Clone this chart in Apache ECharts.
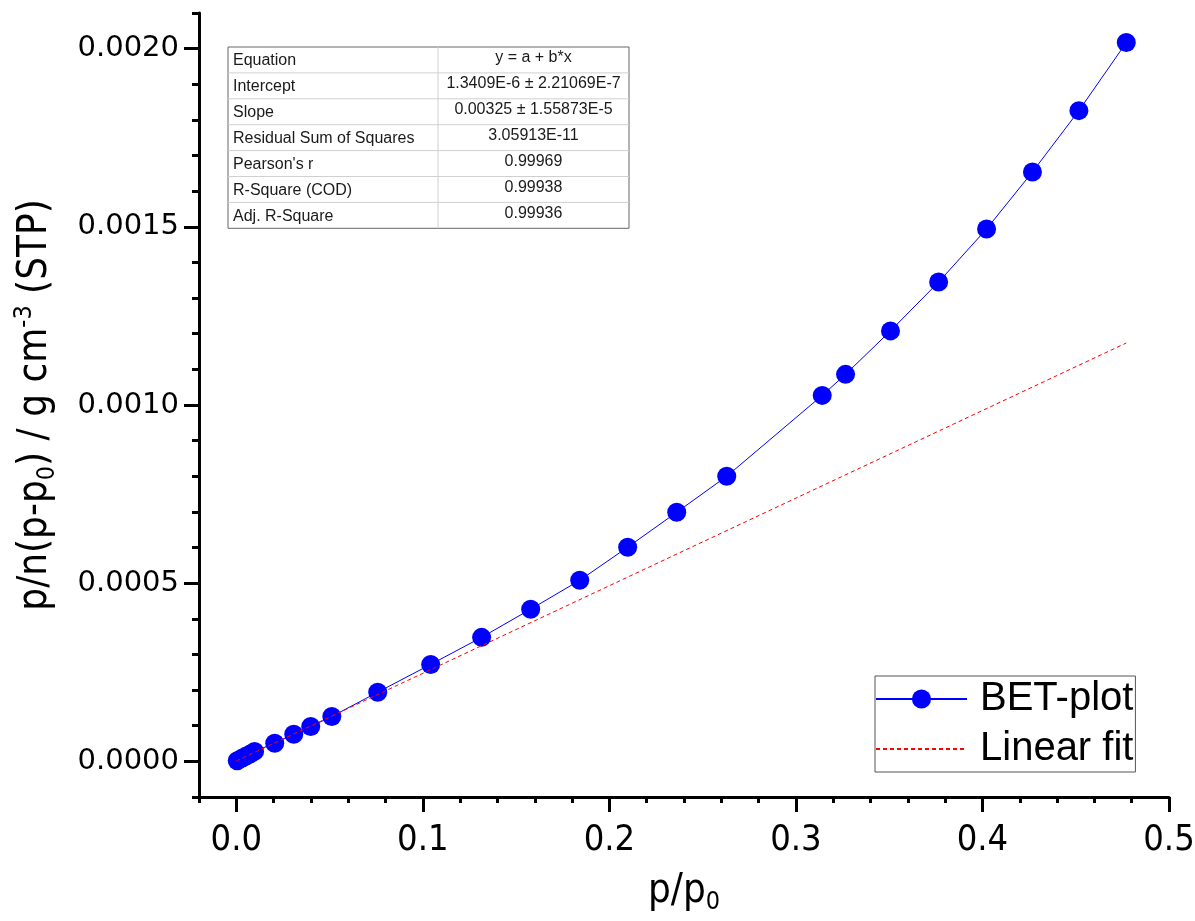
<!DOCTYPE html>
<html>
<head>
<meta charset="utf-8">
<script src="https://cdn.jsdelivr.net/npm/echarts@6/dist/echarts.min.js"></script>
<style>
  html, body { margin: 0; padding: 0; background: #fff; }
  #main { width: 1195px; height: 921px; }
</style>
</head>
<body>
<div id="main"></div>
<script>
// BET plot data
const relPressure = [0.0005, 0.003, 0.005, 0.0075, 0.0098, 0.0206, 0.0308, 0.0399, 0.0512, 0.0758,
  0.1042, 0.1315, 0.1578, 0.1841, 0.2098, 0.2361, 0.2629, 0.3141, 0.3266, 0.3507,
  0.3765, 0.4022, 0.4268, 0.4517, 0.4771];
const betValues = [0.0000015, 0.0000085, 0.000014, 0.000021, 0.000028, 0.000051, 0.000076, 0.000098, 0.000126, 0.000194,
  0.000272, 0.000348, 0.000427, 0.000508, 0.000601, 0.000699, 0.000800, 0.001027, 0.001086, 0.001208,
  0.001345, 0.001494, 0.001654, 0.001826, 0.002017];
// fitted straight line, end points
const fitX = [0, 0.4771];
const fitY = [0.0000013, 0.001174];

const xTicks = [0, 0.1, 0.2, 0.3, 0.4, 0.5];
const yTicks = [0, 0.0005, 0.001, 0.0015, 0.002];

const tableLabels = ['Equation', 'Intercept', 'Slope', 'Residual Sum of Squares', "Pearson's r", 'R-Square (COD)', 'Adj. R-Square'];
const tableValues = ['y = a + b*x', '1.3409E-6 \u00b1 2.21069E-7', '0.00325 \u00b1 1.55873E-5', '3.05913E-11', '0.99969', '0.99938', '0.99936'];

let myChart = echarts.init(document.getElementById('main'));

const narrow = '"Liberation Sans Narrow", "DejaVu Sans Condensed", "Liberation Sans", Arial, sans-serif';
const wide = '"DejaVu Sans", Arial, sans-serif';
const sans = '"Liberation Sans", Arial, sans-serif';

// table as graphic elements
const tLeft = 228, tTop = 47, tW = 401, rowH = 25.9, colX = 438;
let tableEls = [];
tableEls.push({ type: 'rect', shape: { x: tLeft, y: tTop, width: tW, height: rowH * tableLabels.length },
  style: { fill: '#fff', stroke: '#666', lineWidth: 1 } });
for (let i = 1; i < tableLabels.length; i++) {
  tableEls.push({ type: 'line', shape: { x1: tLeft, y1: tTop + rowH * i, x2: tLeft + tW, y2: tTop + rowH * i },
    style: { stroke: '#d0d0d0', lineWidth: 1 } });
}
tableEls.push({ type: 'line', shape: { x1: colX, y1: tTop, x2: colX, y2: tTop + rowH * tableLabels.length },
  style: { stroke: '#d0d0d0', lineWidth: 1 } });
tableLabels.forEach((t, i) => {
  tableEls.push({ type: 'text', x: tLeft + 5, y: tTop + rowH * i + rowH / 2 + 1,
    style: { text: t, font: '16px ' + sans, fill: '#1a1a1a', verticalAlign: 'middle' } });
  tableEls.push({ type: 'text', x: (colX + tLeft + tW) / 2, y: tTop + rowH * i + rowH / 2 - 2,
    style: { text: tableValues[i], font: '16px ' + sans, fill: '#1a1a1a', align: 'center', verticalAlign: 'middle' } });
});

let option = {
  animation: false,
  backgroundColor: '#fff',
  grid: { left: 199, right: 26, top: 13, bottom: 124, outerBoundsMode: 'none', containLabel: false },
  legend: {
    left: 875, top: 676,
    orient: 'vertical',
    itemWidth: 91, itemHeight: 24, itemGap: 10,
    padding: [3, 2, 3, 0],
    borderColor: '#555', borderWidth: 1,
    textStyle: { fontSize: 40, fontFamily: sans, color: '#000', lineHeight: 40, padding: [0, 0, 0, 8] },
    data: [{ name: 'BET-plot' }, { name: 'Linear fit', itemStyle: { opacity: 0 } }]
  },
  xAxis: [
    {
      type: 'value', min: -0.02, max: 0.5, position: 'bottom',
      name: '{a|p/p}{s|0}', nameLocation: 'middle', nameGap: 72,
      nameTextStyle: {
        rich: {
          a: { fontSize: 40, fontFamily: narrow, color: '#000', lineHeight: 46 },
          s: { fontSize: 25, fontFamily: narrow, color: '#000', lineHeight: 24, verticalAlign: 'bottom' }
        }
      },
      splitLine: { show: false },
      axisLine: { onZero: false, lineStyle: { color: '#000', width: 3 } },
      axisTick: { customValues: xTicks, length: 15, lineStyle: { color: '#000', width: 3 } },
      axisLabel: { customValues: xTicks, margin: 26, fontSize: 36, fontFamily: narrow, color: '#000',
        formatter: v => v.toFixed(1) }
    },
    {
      type: 'value', min: -0.02, max: 0.5, interval: 0.02, position: 'bottom',
      splitLine: { show: false },
      axisLine: { show: false, onZero: false },
      axisTick: { length: 6, lineStyle: { color: '#000', width: 3 } },
      axisLabel: { show: false }
    }
  ],
  yAxis: [
    {
      type: 'value', min: -0.0001, max: 0.0021, position: 'left',
      name: '{a|p/n(p-p}{s|0}{a|) / g cm}{u|-3}{a| (STP)}', nameLocation: 'middle', nameGap: 139,
      nameTextStyle: {
        rich: {
          a: { fontSize: 40, fontFamily: narrow, color: '#000', lineHeight: 48 },
          s: { fontSize: 25, fontFamily: narrow, color: '#000', lineHeight: 25, verticalAlign: 'bottom' },
          u: { fontSize: 25, fontFamily: narrow, color: '#000', lineHeight: 25, verticalAlign: 'top' }
        }
      },
      splitLine: { show: false },
      axisLine: { onZero: false, lineStyle: { color: '#000', width: 3 } },
      axisTick: { customValues: yTicks, length: 15, lineStyle: { color: '#000', width: 3 } },
      axisLabel: { customValues: yTicks, margin: 20, fontSize: 29, fontFamily: wide, color: '#000',
        formatter: v => v.toFixed(4) }
    },
    {
      type: 'value', min: -0.0001, max: 0.0021, interval: 0.0001, position: 'left',
      splitLine: { show: false },
      axisLine: { show: false, onZero: false },
      axisTick: { length: 7, lineStyle: { color: '#000', width: 3 } },
      axisLabel: { show: false }
    }
  ],
  series: [
    {
      name: 'BET-plot',
      type: 'line',
      data: relPressure.map((x, i) => [x, betValues[i]]),
      symbol: 'circle', symbolSize: 19,
      itemStyle: { color: '#0000ff' },
      lineStyle: { color: '#0000ff', width: 1 },
      z: 3
    },
    {
      name: 'Linear fit',
      type: 'line',
      data: fitX.map((x, i) => [x, fitY[i]]),
      showSymbol: false, symbol: 'none',
      itemStyle: { color: '#ff0000' },
      lineStyle: { color: '#ff0000', width: 1, type: [4, 3] },
      z: 4
    }
  ],
  graphic: tableEls
};
myChart.setOption(option);
</script>
</body>
</html>
